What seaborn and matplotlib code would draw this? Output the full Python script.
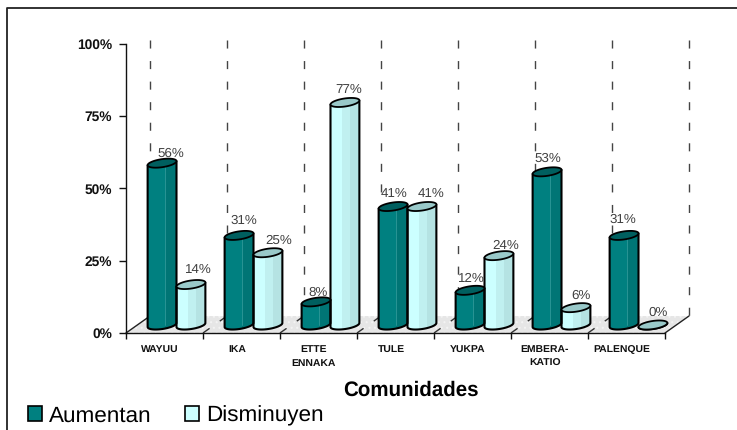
import numpy as np
import pandas as pd
import matplotlib
matplotlib.use("Agg")
import matplotlib.pyplot as plt
from matplotlib.lines import Line2D
from matplotlib.patches import Polygon, Rectangle
import seaborn as sns

# values
comunidades = ["WAYUU", "IKA", "ETTE\nENNAKA", "TULE", "YUKPA", "EMBERA-\nKATIO", "PALENQUE"]
aumentan = [56, 31, 8, 41, 12, 53, 31]
disminuyen = [14, 25, 77, 41, 24, 6, 0]
y_ticks = [0, 25, 50, 75, 100]

# label nudges in pixels (right, up), same order as the bars
nudge_aumentan = [(9, 9.5), (5, 14.5), (2, 9.5), (1, 12.5), (1, 11.5), (1, 13.5), (-1, 15.5)]
nudge_disminuyen = [(7, 14.5), (11, 12.5), (4, 12.5), (9, 12.5), (7, 10.5), (5, 12.5), (5, 12.5)]

df = pd.DataFrame({
    "Comunidad": comunidades * 2,
    "Serie": ["Aumentan"] * 7 + ["Disminuyen"] * 7,
    "Valor": aumentan + disminuyen,
})

sns.set_theme(style="white")
plt.rcParams["font.family"] = ["Liberation Sans", "DejaVu Sans"]
plt.rcParams["text.hinting"] = "no_hinting"
plt.rcParams["hatch.linewidth"] = 0.8

W, H = 737, 430
fig = plt.figure(figsize=(W / 100, H / 100), dpi=100)
ax = fig.add_axes([126 / W, 1 - 333 / H, 539 / W, 289 / H])

# pixels to data units
ux = 1 / 77
uy = 100 / 289
depth_x, depth_y = 24 * ux, 17 * uy
bar_dx, base = 12 * ux, 8 * uy
dash = (0, (5.8, 9))

sns.barplot(data=df, x="Comunidad", y="Valor", hue="Serie", order=comunidades,
            hue_order=["Aumentan", "Disminuyen"], palette=["#008080", "#CCFFFF"],
            width=0.75, edgecolor="black", linewidth=1.2, saturation=1,
            ax=ax, zorder=3)

ax.set_xlim(-0.5, 6.5)
ax.set_ylim(0, 100)

# floor and back lines
left, right = -0.5, 6.5
ax.add_patch(Polygon([(left, 0), (left + depth_x, depth_y), (right + depth_x, depth_y), (right, 0)],
                     closed=True, facecolor="#e6e6e6", edgecolor="#f3f3f3", hatch="...", lw=0,
                     clip_on=False, zorder=1))
ax.plot([left, left + depth_x], [0, depth_y], color="#222222", lw=1, clip_on=False, zorder=2)
ax.plot([right, right + depth_x], [0, depth_y], color="#222222", lw=1, clip_on=False, zorder=2)
for b in np.arange(8) - 0.5:
    ax.plot([b + depth_x, b + depth_x], [101.4, depth_y], color="#444444", lw=1, linestyle=dash,
            clip_on=False, zorder=2)
    if 0 < b + 0.5 < 7:
        ax.plot([b, b + depth_x], [0, depth_y], color="#333333", lw=1, linestyle=dash, zorder=2)

# cylinders on top of the seaborn bars
styles = [
    {"bands": [(0.0, 0.6, "#008080"), (0.6, 1.0, "#007575")], "top": "#005f5f", "line": "#2f9a9a"},
    {"bands": [(0.0, 0.4, "#CCFFFF"), (0.4, 0.68, "#C0F0F0"), (0.68, 1.0, "#B5E3E3")], "top": "#99C9C9", "line": None},
]
nudges = [nudge_aumentan, nudge_disminuyen]
series = [aumentan, disminuyen]
rad_y, skew = 1.4, 0.7

for container, st, nudge, vals in zip(ax.containers, styles, nudges, series):
    for patch, (nx, ny), v in zip(container.patches, nudge, vals):
        patch.set_x(patch.get_x() + bar_dx)
        patch.set_y(base)
        patch.set_linewidth(0)
        x0, w = patch.get_x(), patch.get_width()
        cx, a = x0 + w / 2, w / 2
        top = base + v

        t = np.linspace(np.pi, 2 * np.pi, 40)
        arc = np.column_stack([cx + a * np.cos(t), base + rad_y * np.sin(t) + skew * np.cos(t)])
        outline = np.vstack([[(x0, top - skew)], arc, [(x0 + w, top + skew)]])
        body = Polygon(outline, closed=True, transform=ax.transData, facecolor="none",
                       edgecolor="none", clip_on=False)
        ax.add_patch(body)

        for f0, f1, col in st["bands"]:
            r = Rectangle((x0 + f0 * w, base - 3), (f1 - f0) * w, v + 6, facecolor=col,
                          edgecolor="none", zorder=3.1)
            ax.add_patch(r)
            r.set_clip_path(body)
        if st["line"]:
            ln = ax.plot([x0 + 0.6 * w] * 2, [base, top], color=st["line"], lw=0.6, zorder=3.2)[0]
            ln.set_clip_path(body)
        patch.set_clip_path(body)

        ax.plot(outline[:, 0], outline[:, 1], color="black", lw=1.5, clip_on=False, zorder=3.3)
        t = np.linspace(0, 2 * np.pi, 60)
        ax.add_patch(Polygon(np.column_stack([cx + a * np.cos(t), top + rad_y * np.sin(t) + skew * np.cos(t)]),
                             closed=True, facecolor=st["top"], edgecolor="black", lw=1.3,
                             clip_on=False, zorder=3.4))
        ax.annotate(f"{v}%", (cx, top), xytext=(nx * 0.72, ny * 0.72), textcoords="offset points",
                    ha="center", va="center", fontsize=9.6, color="#404040", zorder=5,
                    annotation_clip=False)

# axes and ticks
for s in ["top", "right"]:
    ax.spines[s].set_visible(False)
for s in ["left", "bottom"]:
    ax.spines[s].set_color("#111111")
    ax.spines[s].set_linewidth(1)

ax.set_yticks(y_ticks, [f"{v}%" for v in y_ticks], fontsize=9.9, fontweight="bold", color="#111111")
ax.tick_params(axis="y", left=True, length=5, width=1, color="#111111", pad=5)
ax.set_xticks(np.arange(8) - 0.5, [""] * 8)
ax.tick_params(axis="x", which="major", bottom=True, length=4, width=1, color="#111111")
ax.set_xticks(np.arange(7) - 4.5 * ux, comunidades, minor=True, fontsize=7.5, fontweight="bold",
              color="#111111", linespacing=1.7)
ax.tick_params(axis="x", which="minor", bottom=False, length=0, pad=8.2)
ax.set_ylabel("")
ax.set_xlabel("Comunidades", fontsize=14.8, fontweight="bold", color="black", va="center")
ax.xaxis.set_label_coords((411 - 126) / 539, -57 / 289)

# legend at the bottom left
sns.move_legend(ax, "lower left", bbox_to_anchor=(28 / W, 1 - 426 / H), bbox_transform=fig.transFigure,
                ncol=2, frameon=False, title=None, fontsize=16.2, handlelength=0.62, handleheight=0.62,
                handletextpad=0.32, columnspacing=1.5, borderpad=0, borderaxespad=0,
                labelcolor="black")

# outer frame, only left and top are in the picture
fig.add_artist(Line2D([7 / W, 7 / W, 1], [0, 1 - 8 / H, 1 - 8 / H], color="#222222", lw=1.3))

fig.savefig("out.png", dpi=100)
